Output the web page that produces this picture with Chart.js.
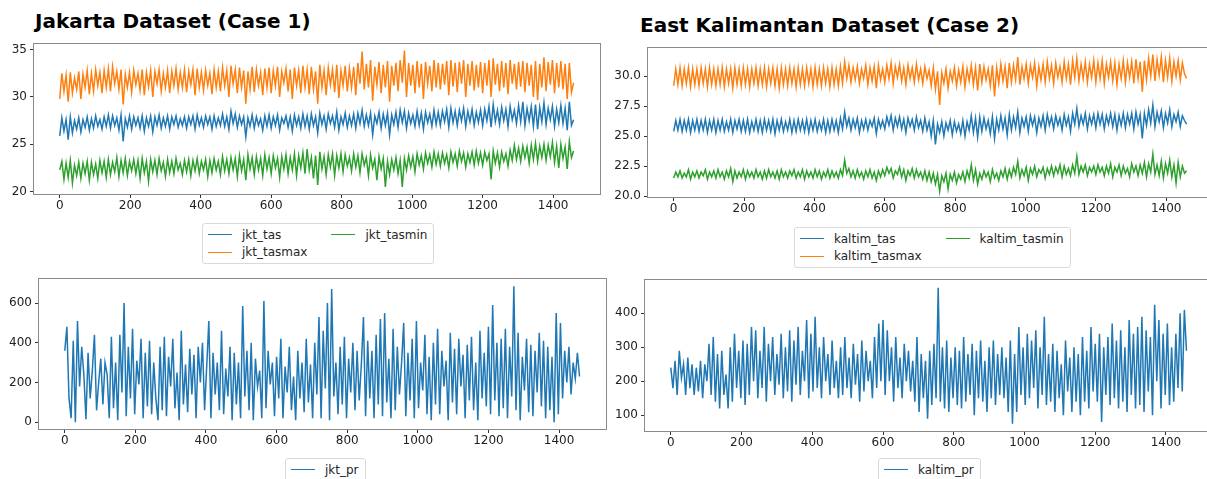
<!DOCTYPE html>
<html>
<head>
<meta charset="utf-8">
<script src="https://cdn.jsdelivr.net/npm/chart.js@4.4.1/dist/chart.umd.min.js"></script>
<style>
  html, body { margin: 0; padding: 0; background: #fff; overflow: hidden; width: 1207px; height: 479px; }
  body { position: relative; font-family: "DejaVu Sans", sans-serif; }
  .title { position: absolute; font-weight: bold; font-size: 20px; line-height: 20px; color: #000; white-space: nowrap; }
  .plot { position: absolute; }
  .legend { position: absolute; display: flex; border: 1px solid #d9d9d9; border-radius: 3px; background: #fff;
            padding: 2px 6px 2px 5px; font-size: 12px; color: #262626; }
  .legend .col { display: flex; flex-direction: column; }
  .legend .col + .col { margin-left: 24px; }
  .legend .item { display: flex; align-items: center; height: 17.5px; white-space: nowrap; }
  .legend .swatch { width: 24px; height: 0; border-top: 1.5px solid; margin-right: 10px; }
</style>
</head>
<body>
<div class="title" style="left:35px; top:11px;">Jakarta Dataset (Case 1)</div>
<div class="title" style="left:640px; top:15px;">East Kalimantan Dataset (Case 2)</div>

<canvas id="jktTemp" class="plot"></canvas>
<canvas id="kaltimTemp" class="plot"></canvas>
<canvas id="jktRain" class="plot"></canvas>
<canvas id="kaltimRain" class="plot"></canvas>

<div id="legJktTemp" class="legend" style="left:202px; top:223px;"></div>
<div id="legKaltimTemp" class="legend" style="left:794px; top:227px;"></div>
<div id="legJktRain" class="legend" style="left:285px; top:458px;"></div>
<div id="legKaltimRain" class="legend" style="left:878px; top:458px;"></div>

<script>
// hari ke- (sampel tiap 6 hari)
const days = [
  0,6,12,18,24,30,36,42,48,54,60,66,72,78,84,90,96,102,108,114,
  120,126,132,138,144,150,156,162,168,174,180,186,192,198,204,210,216,222,228,234,
  240,246,252,258,264,270,276,282,288,294,300,306,312,318,324,330,336,342,348,354,
  360,366,372,378,384,390,396,402,408,414,420,426,432,438,444,450,456,462,468,474,
  480,486,492,498,504,510,516,522,528,534,540,546,552,558,564,570,576,582,588,594,
  600,606,612,618,624,630,636,642,648,654,660,666,672,678,684,690,696,702,708,714,
  720,726,732,738,744,750,756,762,768,774,780,786,792,798,804,810,816,822,828,834,
  840,846,852,858,864,870,876,882,888,894,900,906,912,918,924,930,936,942,948,954,
  960,966,972,978,984,990,996,1002,1008,1014,1020,1026,1032,1038,1044,1050,1056,1062,1068,1074,
  1080,1086,1092,1098,1104,1110,1116,1122,1128,1134,1140,1146,1152,1158,1164,1170,1176,1182,1188,1194,
  1200,1206,1212,1218,1224,1230,1236,1242,1248,1254,1260,1266,1272,1278,1284,1290,1296,1302,1308,1314,
  1320,1326,1332,1338,1344,1350,1356,1362,1368,1374,1380,1386,1392,1398,1404,1410,1416,1422,1428,1434,
  1440,1446,1452,1458
];

const jkt_tas = [
  25.9,27.8,26.4,27.6,25.5,27.9,26.2,27.5,26.6,27.8,26.3,27.6,26.8,27.9,26.5,27.7,26.7,28.0,26.9,27.6,
  26.6,27.9,26.9,28.1,26.7,28.0,27.0,27.8,26.5,28.1,25.3,27.7,26.8,28.0,26.6,27.9,27.0,27.8,26.7,28.0,
  26.4,27.8,26.9,28.0,26.3,27.9,27.0,28.1,26.7,27.8,26.9,28.0,26.6,27.9,27.1,28.0,26.8,27.7,27.0,27.9,
  26.7,27.9,27.1,28.0,26.6,28.1,27.0,27.8,26.8,28.0,27.1,27.9,26.6,28.0,26.9,27.8,27.0,28.2,26.9,27.9,
  26.6,28.5,27.2,28.2,26.8,28.0,27.1,27.9,25.8,27.8,26.9,28.1,26.7,27.9,27.0,27.7,26.5,28.0,26.9,28.1,
  26.7,27.9,27.0,28.1,26.5,27.8,27.2,28.0,26.8,27.9,26.4,28.1,27.0,27.9,26.7,28.2,26.9,28.0,26.6,28.2,
  27.0,27.9,26.2,28.3,27.1,28.0,26.6,28.2,27.2,28.0,26.8,28.4,26.5,27.9,27.1,28.3,26.8,28.0,27.0,28.2,
  26.7,28.3,27.2,28.6,26.9,28.1,27.0,28.3,26.0,28.0,27.2,28.4,26.7,28.2,27.0,28.3,26.0,28.1,27.1,28.4,
  26.8,28.6,27.3,28.5,26.7,28.3,27.2,28.1,26.9,28.5,27.0,28.3,26.6,28.4,27.3,28.2,26.9,28.6,27.1,28.4,
  27.0,28.5,27.4,28.7,26.8,28.8,27.3,28.5,27.0,28.6,27.5,28.8,26.9,28.5,27.4,28.7,27.0,28.4,27.3,28.6,
  27.0,28.7,27.5,29.0,26.8,29.2,27.4,28.6,27.1,28.9,27.5,28.7,26.9,29.0,27.6,28.6,27.2,29.1,27.4,29.5,
  27.0,28.8,27.5,29.0,26.9,29.2,26.6,28.9,27.4,29.4,27.1,28.8,27.6,29.0,26.9,28.7,27.3,29.1,27.2,28.8,
  26.5,29.5,27.0,27.6
];
const jkt_tasmax = [
  29.8,32.5,30.6,32.3,29.5,32.6,30.4,32.0,30.8,32.7,29.8,32.4,31.0,32.8,30.3,32.5,30.6,32.9,31.2,32.6,
  30.4,32.8,31.0,33.0,30.6,33.2,31.4,32.7,30.8,32.9,29.2,32.4,31.0,32.6,30.5,32.8,31.3,32.5,30.7,32.9,
  30.2,32.6,31.1,32.8,30.0,32.7,31.4,32.9,30.6,32.5,31.0,32.8,30.4,32.7,31.2,33.0,30.8,32.6,31.0,32.9,
  30.5,32.7,31.3,32.9,30.2,33.0,31.0,32.6,30.7,32.8,31.2,32.5,30.3,32.9,31.0,32.7,30.6,33.1,31.2,32.8,
  30.0,33.3,31.4,32.9,30.4,33.1,31.0,32.8,29.3,32.7,30.8,33.2,30.5,32.9,31.2,32.6,30.2,33.0,31.0,33.1,
  30.4,32.8,31.2,33.2,30.0,32.7,31.5,33.0,30.6,32.9,29.8,33.1,31.2,32.8,30.4,33.3,31.0,32.9,30.3,33.2,
  30.8,32.7,29.3,33.4,31.0,32.8,30.2,33.1,31.3,32.9,30.5,33.4,29.9,32.8,31.2,33.3,30.6,33.0,31.0,33.2,
  30.2,33.6,31.4,34.8,30.8,33.5,31.0,33.9,29.6,33.2,31.3,33.7,30.4,33.4,31.0,33.8,29.5,33.3,31.2,33.6,
  30.6,33.9,31.5,34.9,30.0,33.6,31.2,33.4,30.4,33.8,31.0,33.5,29.8,33.7,31.4,33.3,30.6,33.9,31.0,33.6,
  30.8,33.5,31.3,33.8,30.2,33.9,31.1,33.6,30.5,33.7,31.4,33.9,30.0,33.5,31.2,33.8,30.7,33.4,31.0,33.7,
  30.4,33.6,31.2,33.9,30.0,34.1,31.3,33.5,30.6,33.8,31.0,33.6,30.3,33.9,31.4,33.5,30.8,33.7,31.1,33.8,
  30.5,33.6,31.2,33.4,30.0,33.8,29.7,33.5,31.0,34.2,30.6,33.7,31.3,33.9,30.4,33.6,31.0,33.8,30.8,33.5,
  29.8,33.6,30.5,31.5
];
const jkt_tasmin = [
  22.3,23.2,21.3,23.0,21.5,23.3,20.9,22.8,21.7,23.1,21.4,23.0,21.9,23.2,21.2,23.1,21.8,22.9,21.4,23.3,
  22.0,23.2,21.5,23.4,21.8,23.1,22.1,23.6,21.6,23.3,22.0,23.5,21.7,23.2,22.2,23.4,21.9,23.3,21.4,23.5,
  22.0,23.2,21.1,23.4,22.1,23.3,21.8,23.5,22.2,23.1,21.6,23.4,22.0,23.2,21.9,23.5,22.3,23.0,21.8,23.3,
  22.1,23.4,21.7,23.3,22.2,23.5,21.9,23.2,22.3,23.4,21.6,23.3,22.0,23.5,22.3,23.2,21.8,23.7,22.2,23.4,
  21.9,23.6,22.3,23.5,21.6,23.8,22.2,23.4,21.2,23.9,22.4,23.6,21.8,23.7,22.3,23.5,21.7,23.9,22.4,23.6,
  21.9,23.8,22.5,23.5,21.5,23.7,22.4,23.9,21.9,23.6,22.3,24.0,21.7,23.8,22.5,24.1,21.9,24.5,22.3,23.6,
  21.4,23.8,20.7,24.2,22.4,23.7,21.8,23.9,22.6,24.0,21.7,23.8,22.5,24.0,22.1,23.9,22.7,23.6,22.2,24.0,
  22.6,23.8,22.0,24.0,22.8,23.6,21.7,23.9,22.5,23.4,21.2,23.7,22.4,23.5,20.5,23.2,21.8,23.4,22.3,23.6,
  21.9,23.3,20.5,23.5,22.3,23.8,22.6,23.7,22.1,24.0,22.8,23.8,22.4,24.1,23.0,23.9,22.6,24.2,22.9,24.0,
  22.7,24.1,23.0,23.9,22.5,24.2,23.1,24.0,22.7,24.3,23.2,24.1,22.6,24.0,23.1,24.2,22.8,24.3,23.0,24.1,
  22.8,24.2,23.3,24.0,21.3,24.3,23.0,24.1,22.6,24.2,23.2,24.0,22.7,24.4,23.3,24.9,23.4,24.6,23.2,24.8,
  23.6,24.7,23.0,24.9,23.4,25.1,23.2,24.8,23.6,25.0,23.3,24.9,23.7,25.2,23.1,24.8,22.5,25.0,23.5,24.7,
  22.4,25.3,23.6,24.3
];
const jkt_pr = [
  360,480,120,20,410,0,510,180,380,240,15,350,120,260,440,60,200,320,90,300,
  240,20,430,70,300,10,440,150,600,30,380,120,470,40,310,190,420,20,350,80,
  410,40,300,120,10,380,60,430,30,330,180,420,70,250,10,460,90,290,50,370,
  140,340,20,380,200,400,60,280,510,20,350,140,300,60,460,40,270,130,380,10,
  350,90,300,20,585,130,360,60,400,10,320,180,260,20,610,70,360,190,300,30,
  330,120,420,20,280,150,380,60,230,10,360,120,300,50,420,100,290,20,400,140,
  530,20,460,170,600,10,670,130,300,40,380,90,430,20,320,150,400,60,360,110,
  290,530,30,410,120,360,20,440,90,520,30,550,100,320,20,470,60,380,140,300,
  500,30,350,110,420,20,510,70,300,160,440,40,330,10,400,90,470,40,360,180,
  310,10,450,100,370,40,420,180,340,20,390,110,430,60,300,10,460,120,350,80,
  480,40,590,110,400,30,420,70,470,20,380,130,685,60,450,10,330,160,420,50,
  390,30,360,150,450,80,410,20,380,60,330,0,550,40,500,120,360,200,380,140,
  300,220,350,230
];

const kaltim_tas = [
  25.4,26.3,25.5,26.4,25.4,26.3,25.5,26.4,25.3,26.3,25.5,26.4,25.4,26.3,25.5,26.4,25.3,26.3,25.5,26.4,
  25.3,26.3,25.5,26.4,25.4,26.2,25.5,26.4,25.3,26.3,25.6,26.4,25.4,26.3,25.4,26.4,25.3,26.2,25.5,26.4,
  25.4,26.3,25.3,26.4,25.5,26.3,25.4,26.4,25.2,26.3,25.5,26.4,25.4,26.2,25.5,26.4,25.3,26.3,25.4,26.4,
  25.5,26.3,25.4,26.4,25.3,26.3,25.5,26.4,25.4,26.2,25.5,26.4,25.3,26.3,25.4,26.4,25.5,26.3,25.3,26.5,
  25.6,27.0,25.8,26.5,25.5,26.4,25.7,26.5,25.3,26.3,25.6,26.4,25.5,26.3,25.8,26.5,25.2,26.4,25.7,26.3,
  25.6,26.6,25.9,26.7,25.5,26.5,25.8,26.6,25.6,26.4,25.3,26.5,25.8,26.4,25.5,26.6,25.7,26.3,25.4,26.5,
  25.5,26.2,25.0,26.3,24.3,26.0,25.3,26.2,25.0,26.1,25.5,26.3,25.1,26.2,25.4,26.0,25.2,26.3,25.0,26.2,
  25.5,26.7,25.3,26.5,24.9,26.6,25.4,26.5,25.6,26.3,25.2,26.6,24.8,26.4,25.5,26.7,25.6,26.5,25.1,26.8,
  25.5,26.6,25.7,27.0,25.3,26.5,25.8,26.6,25.4,26.7,25.9,26.6,25.3,26.5,25.8,26.7,25.5,26.8,25.9,26.6,
  25.6,26.7,25.9,26.5,25.5,26.8,25.9,26.6,25.4,26.9,26.0,27.3,25.8,26.7,26.0,26.9,25.6,26.7,26.0,26.8,
  25.7,26.9,26.0,26.8,25.6,26.7,26.0,26.9,25.8,26.8,25.5,26.7,25.9,26.9,25.7,26.8,26.0,26.9,25.6,27.0,
  26.0,26.8,24.8,26.9,25.9,27.2,26.1,27.6,25.8,27.0,26.2,27.1,25.7,26.9,26.1,27.2,25.8,26.8,26.2,27.0,
  25.8,26.7,26.3,26.0
];
const kaltim_tasmax = [
  29.2,30.6,29.3,30.7,29.2,30.6,29.4,30.7,29.1,30.6,29.3,30.6,29.2,30.7,29.4,30.6,29.1,30.7,29.3,30.6,
  29.2,30.6,29.3,30.7,29.1,30.6,29.4,30.6,29.0,30.7,29.3,30.6,29.2,30.7,29.3,30.6,29.1,30.6,29.4,30.7,
  29.2,30.6,29.3,30.7,29.1,30.6,29.4,30.7,29.2,30.6,29.0,30.7,29.3,30.6,29.2,30.7,29.4,30.6,29.1,30.7,
  29.3,30.6,29.2,30.7,29.4,30.6,29.1,30.7,29.3,30.6,29.2,30.7,29.4,30.6,29.1,30.7,29.3,30.6,29.2,30.8,
  29.4,31.2,29.8,30.9,29.5,30.7,29.7,30.8,29.4,30.6,29.8,30.9,29.3,30.7,29.6,30.8,29.0,30.9,29.7,30.6,
  29.5,30.9,29.8,31.1,29.4,30.8,29.9,31.0,29.6,30.7,29.3,30.9,29.8,30.7,29.5,31.0,29.7,30.6,29.4,30.8,
  29.8,30.5,29.2,30.7,28.9,30.4,27.6,30.3,29.4,30.6,29.0,30.4,29.6,30.7,29.2,30.5,29.5,30.8,29.1,30.6,
  29.6,30.9,29.3,30.7,28.8,31.0,29.5,30.8,29.7,30.6,29.2,30.9,28.3,30.7,29.4,31.0,29.6,30.8,29.0,31.1,
  29.5,30.9,29.7,31.6,29.3,30.8,29.8,31.0,29.4,30.9,29.9,31.1,29.2,30.8,29.7,31.0,29.5,31.2,29.8,30.9,
  29.4,31.1,29.9,30.8,29.5,31.2,29.8,31.0,29.3,31.3,29.9,31.5,29.6,31.0,29.8,31.2,29.5,31.0,29.9,31.3,
  29.5,31.1,29.8,31.3,29.4,31.0,29.9,31.2,29.6,31.1,29.3,31.0,29.8,31.3,29.5,31.1,29.9,31.2,29.4,31.4,
  29.8,31.2,28.7,31.3,29.7,31.5,30.0,31.8,29.6,31.4,30.1,31.6,29.5,31.3,29.9,31.5,29.6,31.2,30.0,31.3,
  29.7,31.1,30.2,29.8
];
const kaltim_tasmin = [
  21.5,22.0,21.6,22.1,21.5,21.9,21.6,22.2,21.4,22.0,21.6,22.1,21.5,22.0,21.7,22.2,21.4,22.0,21.6,22.1,
  21.5,22.2,21.6,22.0,21.4,22.1,21.6,22.3,21.2,22.1,21.5,22.0,21.6,22.2,21.4,22.1,21.6,22.0,21.5,22.2,
  21.6,22.0,21.4,22.1,21.5,22.2,21.6,22.0,21.5,22.1,21.4,22.2,21.6,22.0,21.5,22.1,21.7,22.2,21.5,22.0,
  21.6,22.2,21.4,22.1,21.6,22.0,21.5,22.2,21.6,22.1,21.4,22.0,21.6,22.2,21.5,22.1,21.6,22.0,21.5,22.2,
  21.7,23.0,21.9,22.3,21.6,22.1,21.5,22.2,21.6,22.0,21.4,22.1,21.6,22.2,21.5,22.0,21.3,22.1,21.6,22.2,
  21.7,22.4,21.9,22.3,21.5,22.1,21.8,22.4,21.6,22.2,21.3,22.1,21.7,22.3,21.5,22.2,21.6,22.0,21.4,22.1,
  21.3,22.0,21.2,21.9,21.0,21.8,20.4,21.7,21.2,21.9,20.6,21.8,21.3,22.0,21.1,21.8,21.4,22.0,21.2,22.1,
  21.5,22.6,21.3,22.2,21.0,21.9,21.4,22.1,21.6,22.0,21.2,22.2,21.5,21.9,21.3,22.1,21.6,22.3,21.4,22.2,
  21.6,22.4,21.8,22.9,21.5,22.2,21.7,22.4,21.3,22.3,21.8,22.5,21.6,22.2,21.9,22.4,21.5,22.3,21.8,22.5,
  21.7,22.4,21.9,22.6,21.6,22.5,21.8,22.3,21.7,22.6,21.9,23.3,21.8,22.5,22.0,22.6,21.7,22.4,22.0,22.5,
  21.8,22.6,22.0,22.4,21.7,22.5,21.9,22.7,21.6,22.4,22.0,22.6,21.7,22.5,21.9,22.3,21.6,22.7,22.0,22.5,
  21.7,22.6,21.9,22.8,21.6,22.7,22.0,23.5,21.8,22.6,21.7,22.9,21.5,22.7,21.9,23.0,21.6,22.6,21.1,22.8,
  21.6,22.5,21.9,22.1
];
const kaltim_pr = [
  240,180,260,160,290,210,250,160,270,180,250,160,240,170,260,150,250,200,310,160,
  330,140,280,120,290,160,220,120,300,140,340,180,290,150,320,130,310,160,360,200,
  350,150,290,180,360,140,310,200,330,160,280,190,340,150,300,170,350,140,320,190,
  360,160,290,200,380,150,340,170,390,180,300,150,330,200,280,160,320,180,260,150,
  300,160,330,180,270,150,310,190,280,140,320,170,290,200,260,150,330,180,370,200,
  380,160,350,200,300,140,330,180,270,150,310,200,290,170,260,140,330,110,280,150,
  260,90,290,130,310,150,475,140,300,120,320,110,270,150,300,130,290,120,330,140,
  280,160,310,100,290,150,320,140,260,110,300,150,320,130,280,160,300,150,270,110,
  320,75,280,110,360,160,300,130,340,150,320,180,350,120,300,160,390,130,280,140,
  310,110,290,150,250,100,320,170,270,110,300,140,280,100,330,140,290,120,360,170,
  310,140,340,80,300,160,330,130,370,150,320,120,350,140,300,110,380,160,340,120,
  360,130,390,110,350,170,330,100,425,200,380,120,340,160,370,130,300,140,340,180,
  400,170,410,290
];

// label dan tick
const jktNames = ["jkt_tas", "jkt_tasmax", "jkt_tasmin"];
const kaltimNames = ["kaltim_tas", "kaltim_tasmax", "kaltim_tasmin"];
const xTicks = [0, 200, 400, 600, 800, 1000, 1200, 1400];
const jktTempTicks = [20, 25, 30, 35];
const kaltimTempTicks = [20.0, 22.5, 25.0, 27.5, 30.0];
const jktRainTicks = [0, 200, 400, 600];
const kaltimRainTicks = [100, 200, 300, 400];

const BLUE = "#1f77b4", ORANGE = "#ff7f0e", GREEN = "#2ca02c";
const tickFont = { family: "DejaVu Sans", size: 12 };

// kotak di sekeliling area plot (seperti matplotlib)
const framePlugin = {
    id: "frame",
    afterDraw(chart) {
        const a = chart.chartArea;
        const ctx = chart.ctx;
        ctx.save();
        ctx.strokeStyle = "#8a8a8a";
        ctx.lineWidth = 1;
        ctx.strokeRect(a.left - 0.5, a.top - 0.5, a.right - a.left + 1, a.bottom - a.top + 1);
        ctx.restore();
    },
};

function toPoints(values) {
    return days.map((d, i) => ({ x: d, y: values[i] }));
}

// area: posisi kotak plot di halaman
function makeChart(id, area, series, yMin, yMax, yTicks, fmt) {
    const canvas = document.getElementById(id);
    canvas.width = area.w + 42;
    canvas.height = area.h + 37;
    canvas.style.left = (area.left - 40) + "px";
    canvas.style.top = (area.top - 12) + "px";

    new Chart(canvas, {
        type: "line",
        data: {
            datasets: series.map((s) => ({
                label: s.label,
                data: toPoints(s.values),
                borderColor: s.color,
                borderWidth: 1.5,
                pointRadius: 0,
                tension: 0,
                fill: false,
            })),
        },
        options: {
            responsive: false,
            animation: false,
            devicePixelRatio: 1,
            layout: { padding: { top: 12, right: 2, left: 0, bottom: 0 } },
            plugins: { legend: { display: false }, tooltip: { enabled: false } },
            scales: {
                x: {
                    type: "linear",
                    min: -73,
                    max: 1533,
                    afterFit: (s) => { s.height = 25; },
                    afterBuildTicks: (s) => { s.ticks = xTicks.map((v) => ({ value: v })); },
                    grid: { display: true, drawOnChartArea: false, drawTicks: true, tickLength: 4, color: "#333" },
                    border: { display: false },
                    ticks: { font: tickFont, color: "#222", padding: 1, maxRotation: 0, autoSkip: false, callback: (v) => String(v) },
                },
                y: {
                    type: "linear",
                    min: yMin,
                    max: yMax,
                    afterFit: (s) => { s.width = 40; },
                    afterBuildTicks: (s) => { s.ticks = yTicks.map((v) => ({ value: v })); },
                    grid: { display: true, drawOnChartArea: false, drawTicks: true, tickLength: 4, color: "#333" },
                    border: { display: false },
                    ticks: { font: tickFont, color: "#222", padding: 3, autoSkip: false, callback: fmt },
                },
            },
        },
        plugins: [framePlugin],
    });
}

// legenda HTML, kolom diisi dari atas ke bawah
function makeLegend(id, columns) {
    const box = document.getElementById(id);
    columns.forEach((col) => {
        const c = document.createElement("div");
        c.className = "col";
        col.forEach((entry) => {
            const item = document.createElement("div");
            item.className = "item";
            const sw = document.createElement("span");
            sw.className = "swatch";
            sw.style.borderColor = entry.color;
            const txt = document.createElement("span");
            txt.textContent = entry.label;
            item.appendChild(sw);
            item.appendChild(txt);
            c.appendChild(item);
        });
        box.appendChild(c);
    });
}

const intFmt = (v) => String(v);
const oneDec = (v) => v.toFixed(1);

makeChart("jktTemp", { left: 34, top: 44, w: 566, h: 150 }, [
    { label: jktNames[0], values: jkt_tas, color: BLUE },
    { label: jktNames[1], values: jkt_tasmax, color: ORANGE },
    { label: jktNames[2], values: jkt_tasmin, color: GREEN },
], 19.75, 35.6, jktTempTicks, intFmt);

makeChart("kaltimTemp", { left: 648, top: 48, w: 565, h: 149 }, [
    { label: kaltimNames[0], values: kaltim_tas, color: BLUE },
    { label: kaltimNames[1], values: kaltim_tasmax, color: ORANGE },
    { label: kaltimNames[2], values: kaltim_tasmin, color: GREEN },
], 19.92, 32.35, kaltimTempTicks, oneDec);

makeChart("jktRain", { left: 39, top: 279, w: 567, h: 150 }, [
    { label: "jkt_pr", values: jkt_pr, color: BLUE },
], -34, 721, jktRainTicks, intFmt);

makeChart("kaltimRain", { left: 645, top: 280, w: 568, h: 151 }, [
    { label: "kaltim_pr", values: kaltim_pr, color: BLUE },
], 53.7, 498, kaltimRainTicks, intFmt);

makeLegend("legJktTemp", [
    [{ label: jktNames[0], color: BLUE }, { label: jktNames[1], color: ORANGE }],
    [{ label: jktNames[2], color: GREEN }],
]);
makeLegend("legKaltimTemp", [
    [{ label: kaltimNames[0], color: BLUE }, { label: kaltimNames[1], color: ORANGE }],
    [{ label: kaltimNames[2], color: GREEN }],
]);
makeLegend("legJktRain", [[{ label: "jkt_pr", color: BLUE }]]);
makeLegend("legKaltimRain", [[{ label: "kaltim_pr", color: BLUE }]]);
</script>
</body>
</html>
